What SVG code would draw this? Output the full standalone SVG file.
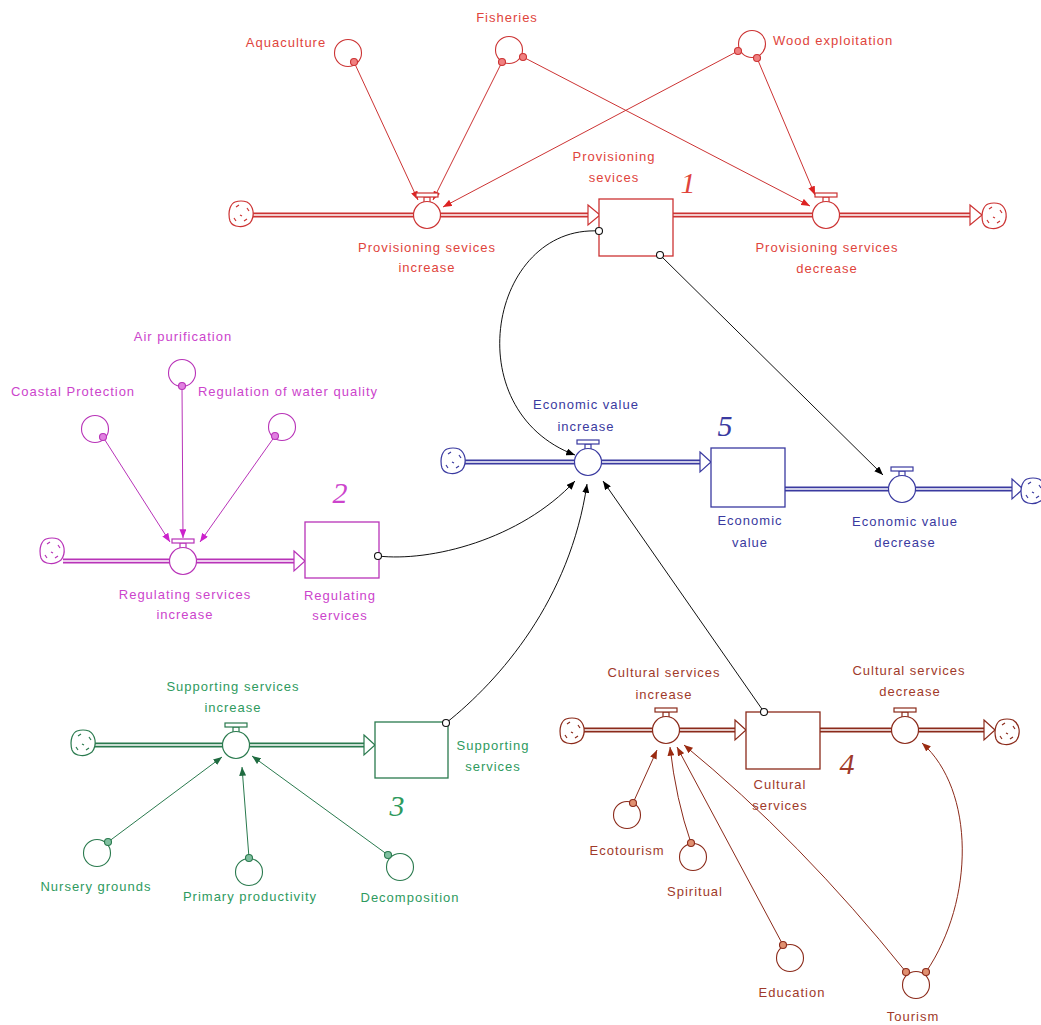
<svg xmlns="http://www.w3.org/2000/svg" xmlns:xlink="http://www.w3.org/1999/xlink" width="1041" height="1025" viewBox="0 0 1041 1025">
<style>
.lbl{font-family:"Liberation Sans",Arial,sans-serif;font-size:13px;letter-spacing:1px;text-anchor:middle}
.num{font-family:"Liberation Serif","Times New Roman",serif;font-style:italic;font-size:30px;text-anchor:middle}
.po{fill:none;stroke-width:5}
.pi{fill:none;stroke:#fff;stroke-width:1.6}
.box{fill:#fff;stroke-width:1.3}
.head{fill:#fff;stroke-width:1.2}
.aux{fill:#fff;stroke-width:1.1}
.ln{fill:none;stroke-width:1}
.dot{stroke-width:1.1}
.tr{fill:#E0443C}.sr{stroke:#CC3333}
.tm{fill:#CC44CC}.sm{stroke:#B833B8}
.tb{fill:#3A3AA0}.sb{stroke:#3A3AA0}
.tg{fill:#2E9A5E}.sg{stroke:#2A7A4E}
.tn{fill:#A03A2A}.sn{stroke:#8B2A1A}
.sk{stroke:#111}
</style>
<defs>
<marker id="aR" viewBox="0 0 10 8" refX="10" refY="4" markerWidth="9" markerHeight="7" markerUnits="userSpaceOnUse" orient="auto"><path d="M0,0 L10,4 L0,8 Z" fill="#DD2222"/></marker>
<marker id="aM" viewBox="0 0 10 8" refX="10" refY="4" markerWidth="9" markerHeight="7" markerUnits="userSpaceOnUse" orient="auto"><path d="M0,0 L10,4 L0,8 Z" fill="#CC22CC"/></marker>
<marker id="aG" viewBox="0 0 10 8" refX="10" refY="4" markerWidth="9" markerHeight="7" markerUnits="userSpaceOnUse" orient="auto"><path d="M0,0 L10,4 L0,8 Z" fill="#1F6B40"/></marker>
<marker id="aN" viewBox="0 0 10 8" refX="10" refY="4" markerWidth="9" markerHeight="7" markerUnits="userSpaceOnUse" orient="auto"><path d="M0,0 L10,4 L0,8 Z" fill="#9A2A10"/></marker>
<marker id="aK" viewBox="0 0 10 8" refX="10" refY="4" markerWidth="9" markerHeight="7" markerUnits="userSpaceOnUse" orient="auto"><path d="M0,0 L10,4 L0,8 Z" fill="#000"/></marker>
<g id="cloud" fill="#fff" stroke="currentColor" stroke-width="1.2">
<path d="M-6,-12 Q0,-14 6,-12 Q11,-9 12,-3 Q13,4 9,9 Q4,13 -2,12.5 Q-9,12 -11,7 Q-13,0 -11,-6 Q-9,-11 -6,-12 Z"/>
<path d="M-5,-7 l3,-2 M6,-6 l2,3 M6,5 l-3,2 M-7,4 l2,3 M-1,1 l2,1" fill="none"/>
</g>
<g id="valve" fill="#fff" stroke="currentColor" stroke-width="1.2">
<rect x="-3" y="-18" width="6" height="6"/>
<rect x="-11" y="-22" width="22" height="4"/>
<circle r="13.5"/>
</g>
</defs>
<rect width="1041" height="1025" fill="#fff"/>

<g id="pipes">
<!-- red -->
<path class="po sr" d="M253,215 H588"/><path class="pi" d="M253,215 H588"/>
<path class="po sr" d="M673,215 H970"/><path class="pi" d="M673,215 H970"/>
<!-- magenta -->
<path class="po sm" d="M63,561 H295"/><path class="pi" d="M63,561 H295"/>
<!-- blue -->
<path class="po sb" d="M465,462 H700"/><path class="pi" d="M465,462 H700"/>
<path class="po sb" d="M785,489 H1012"/><path class="pi" d="M785,489 H1012"/>
<!-- green -->
<path class="po sg" d="M95,745 H364"/><path class="pi" d="M95,745 H364"/>
<!-- brown -->
<path class="po sn" d="M584,730 H735"/><path class="pi" d="M584,730 H735"/>
<path class="po sn" d="M820,730 H984"/><path class="pi" d="M820,730 H984"/>
</g>

<g id="connectors">
<!-- red -->
<path class="ln sr" d="M354,62 L418,200" marker-end="url(#aR)"/>
<path class="ln sr" d="M502,62 L433,200" marker-end="url(#aR)"/>
<path class="ln sr" d="M738,51 L443,207" marker-end="url(#aR)"/>
<path class="ln sr" d="M523,57 L810,206" marker-end="url(#aR)"/>
<path class="ln sr" d="M757,58 L815,195" marker-end="url(#aR)"/>
<!-- magenta -->
<path class="ln sm" d="M103,437 L170,542" marker-end="url(#aM)"/>
<path class="ln sm" d="M182,386 L183,538" marker-end="url(#aM)"/>
<path class="ln sm" d="M275,436 L200,542" marker-end="url(#aM)"/>
<!-- green -->
<path class="ln sg" d="M108,842 L222,757" marker-end="url(#aG)"/>
<path class="ln sg" d="M249,858 L242,767" marker-end="url(#aG)"/>
<path class="ln sg" d="M388,855 L252,756" marker-end="url(#aG)"/>
<!-- brown -->
<path class="ln sn" d="M633,803 L657,750" marker-end="url(#aN)"/>
<path class="ln sn" d="M691,843 Q676,800 670,747" marker-end="url(#aN)"/>
<path class="ln sn" d="M783,945 L677,747" marker-end="url(#aN)"/>
<path class="ln sn" d="M906,972 Q800,840 684,745" marker-end="url(#aN)"/>
<path class="ln sn" d="M926,972 C975,900 975,790 922,743" marker-end="url(#aN)"/>
<!-- black -->
<path class="ln sk" d="M599,231 C490,225 455,410 575,455" marker-end="url(#aK)"/>
<path class="ln sk" d="M660,255 L883,475" marker-end="url(#aK)"/>
<path class="ln sk" d="M378,556 C430,562 520,540 575,481" marker-end="url(#aK)"/>
<path class="ln sk" d="M446,723 C500,680 570,600 587,484" marker-end="url(#aK)"/>
<path class="ln sk" d="M764,712 L603,481" marker-end="url(#aK)"/>
</g>

<!-- RED: Provisioning -->
<g id="prov_src" color="#CC3333"><use xlink:href="#cloud" x="241" y="214"/></g>
<g id="prov_inc"><use xlink:href="#valve" x="427" y="215" color="#CC3333"/>
<text class="lbl tr" x="427" y="252">Provisioning sevices</text><text class="lbl tr" x="427" y="272">increase</text></g>
<g id="prov_stock"><polygon class="head sr" points="588,205 600,215 588,225"/><rect class="box sr" x="599" y="199" width="74" height="57"/>
<text class="lbl tr" x="614" y="161">Provisioning</text><text class="lbl tr" x="614" y="182">sevices</text>
<text class="num tr" x="688" y="193">1</text></g>
<g id="prov_dec"><use xlink:href="#valve" x="826" y="215" color="#CC3333"/>
<text class="lbl tr" x="827" y="252">Provisioning services</text><text class="lbl tr" x="827" y="273">decrease</text></g>
<g id="prov_sink"><polygon class="head sr" points="970,205 982,215 970,225"/><use xlink:href="#cloud" x="994" y="216" color="#CC3333"/></g>
<g id="aquaculture"><circle class="aux sr" cx="348" cy="53" r="13.5"/><text class="lbl tr" x="286" y="47">Aquaculture</text></g>
<g id="fisheries"><circle class="aux sr" cx="509" cy="50" r="13.5"/><text class="lbl tr" x="507" y="22">Fisheries</text></g>
<g id="wood"><circle class="aux sr" cx="752" cy="44" r="13.5"/><text class="lbl tr" x="773" y="45" style="text-anchor:start">Wood exploitation</text></g>

<!-- MAGENTA: Regulating -->
<g id="reg_src"><use xlink:href="#cloud" x="52" y="551" color="#B833B8"/></g>
<g id="reg_inc"><use xlink:href="#valve" x="183" y="561" color="#B833B8"/>
<text class="lbl tm" x="185" y="599">Regulating services</text><text class="lbl tm" x="185" y="619">increase</text></g>
<g id="reg_stock"><polygon class="head sm" points="294,551 305,561 294,571"/><rect class="box sm" x="305" y="522" width="74" height="56"/>
<text class="lbl tm" x="340" y="600">Regulating</text><text class="lbl tm" x="340" y="620">services</text>
<text class="num tm" x="340" y="503">2</text></g>
<g id="air"><circle class="aux sm" cx="182" cy="373" r="13.5"/><text class="lbl tm" x="183" y="341">Air purification</text></g>
<g id="coastal"><circle class="aux sm" cx="95" cy="429" r="13.5"/><text class="lbl tm" x="73" y="396">Coastal Protection</text></g>
<g id="water"><circle class="aux sm" cx="282" cy="427" r="13.5"/><text class="lbl tm" x="288" y="396">Regulation of water quality</text></g>

<!-- BLUE: Economic value -->
<g id="eco_src"><use xlink:href="#cloud" x="453" y="461" color="#3A3AA0"/></g>
<g id="eco_inc"><use xlink:href="#valve" x="588" y="462" color="#3A3AA0"/>
<text class="lbl tb" x="586" y="409">Economic value</text><text class="lbl tb" x="586" y="431">increase</text></g>
<g id="eco_stock"><polygon class="head sb" points="700,452 711,462 700,472"/><rect class="box sb" x="711" y="448" width="74" height="59"/>
<text class="lbl tb" x="750" y="525">Economic</text><text class="lbl tb" x="750" y="547">value</text>
<text class="num tb" x="725" y="436">5</text></g>
<g id="eco_dec"><use xlink:href="#valve" x="902" y="489" color="#3A3AA0"/>
<text class="lbl tb" x="905" y="526">Economic value</text><text class="lbl tb" x="905" y="547">decrease</text></g>
<g id="eco_sink"><polygon class="head sb" points="1012,479 1023,489 1012,499"/><use xlink:href="#cloud" x="1033" y="491" color="#3A3AA0"/></g>

<!-- GREEN: Supporting -->
<g id="sup_src"><use xlink:href="#cloud" x="83" y="743" color="#2A7A4E"/></g>
<g id="sup_inc"><use xlink:href="#valve" x="236" y="745" color="#2A7A4E"/>
<text class="lbl tg" x="233" y="691">Supporting services</text><text class="lbl tg" x="233" y="712">increase</text></g>
<g id="sup_stock"><polygon class="head sg" points="364,735 375,745 364,755"/><rect class="box sg" x="375" y="722" width="73" height="56"/>
<text class="lbl tg" x="493" y="750">Supporting</text><text class="lbl tg" x="493" y="771">services</text>
<text class="num tg" x="397" y="816">3</text></g>
<g id="nursery"><circle class="aux sg" cx="97" cy="853" r="13.5"/><text class="lbl tg" x="96" y="891">Nursery grounds</text></g>
<g id="primary"><circle class="aux sg" cx="249" cy="872" r="13.5"/><text class="lbl tg" x="250" y="901">Primary productivity</text></g>
<g id="decomp"><circle class="aux sg" cx="400" cy="867" r="13.5"/><text class="lbl tg" x="410" y="902">Decomposition</text></g>

<!-- BROWN: Cultural -->
<g id="cul_src"><use xlink:href="#cloud" x="572" y="731" color="#8B2A1A"/></g>
<g id="cul_inc"><use xlink:href="#valve" x="666" y="730" color="#8B2A1A"/>
<text class="lbl tn" x="664" y="677">Cultural services</text><text class="lbl tn" x="664" y="699">increase</text></g>
<g id="cul_stock"><polygon class="head sn" points="735,720 746,730 735,740"/><rect class="box sn" x="746" y="712" width="74" height="57"/>
<text class="lbl tn" x="780" y="789">Cultural</text><text class="lbl tn" x="780" y="810">services</text>
<text class="num tn" x="847" y="774">4</text></g>
<g id="cul_dec"><use xlink:href="#valve" x="905" y="730" color="#8B2A1A"/>
<text class="lbl tn" x="909" y="675">Cultural services</text><text class="lbl tn" x="910" y="696">decrease</text></g>
<g id="cul_sink"><polygon class="head sn" points="984,720 995,730 984,740"/><use xlink:href="#cloud" x="1007" y="732" color="#8B2A1A"/></g>
<g id="ecotourism"><circle class="aux sn" cx="627" cy="815" r="13.5"/><text class="lbl tn" x="627" y="855">Ecotourism</text></g>
<g id="spiritual"><circle class="aux sn" cx="693" cy="857" r="13.5"/><text class="lbl tn" x="695" y="896">Spiritual</text></g>
<g id="education"><circle class="aux sn" cx="790" cy="958" r="13.5"/><text class="lbl tn" x="792" y="997">Education</text></g>
<g id="tourism"><circle class="aux sn" cx="916" cy="985" r="13.5"/><text class="lbl tn" x="913" y="1021">Tourism</text></g>

<g id="connector-origins">
<circle class="dot sr" cx="354" cy="62" r="3.5" fill="#F08080"/>
<circle class="dot sr" cx="502" cy="62" r="3.5" fill="#F08080"/>
<circle class="dot sr" cx="523" cy="57" r="3.5" fill="#F08080"/>
<circle class="dot sr" cx="738" cy="51" r="3.5" fill="#F08080"/>
<circle class="dot sr" cx="757" cy="58" r="3.5" fill="#F08080"/>
<circle class="dot sm" cx="103" cy="437" r="3.5" fill="#E080E0"/>
<circle class="dot sm" cx="182" cy="386" r="3.5" fill="#E080E0"/>
<circle class="dot sm" cx="275" cy="436" r="3.5" fill="#E080E0"/>
<circle class="dot sg" cx="108" cy="842" r="3.5" fill="#80C0A0"/>
<circle class="dot sg" cx="249" cy="858" r="3.5" fill="#80C0A0"/>
<circle class="dot sg" cx="388" cy="855" r="3.5" fill="#80C0A0"/>
<circle class="dot sn" cx="633" cy="803" r="3.5" fill="#E09070"/>
<circle class="dot sn" cx="691" cy="843" r="3.5" fill="#E09070"/>
<circle class="dot sn" cx="783" cy="945" r="3.5" fill="#E09070"/>
<circle class="dot sn" cx="906" cy="972" r="3.5" fill="#E09070"/>
<circle class="dot sn" cx="926" cy="972" r="3.5" fill="#E09070"/>
<circle class="dot sk" cx="599" cy="231" r="3.5" fill="#fff"/>
<circle class="dot sk" cx="660" cy="255" r="3.5" fill="#fff"/>
<circle class="dot sk" cx="378" cy="556" r="3.5" fill="#fff"/>
<circle class="dot sk" cx="446" cy="723" r="3.5" fill="#fff"/>
<circle class="dot sk" cx="764" cy="712" r="3.5" fill="#fff"/>
</g>
</svg>
